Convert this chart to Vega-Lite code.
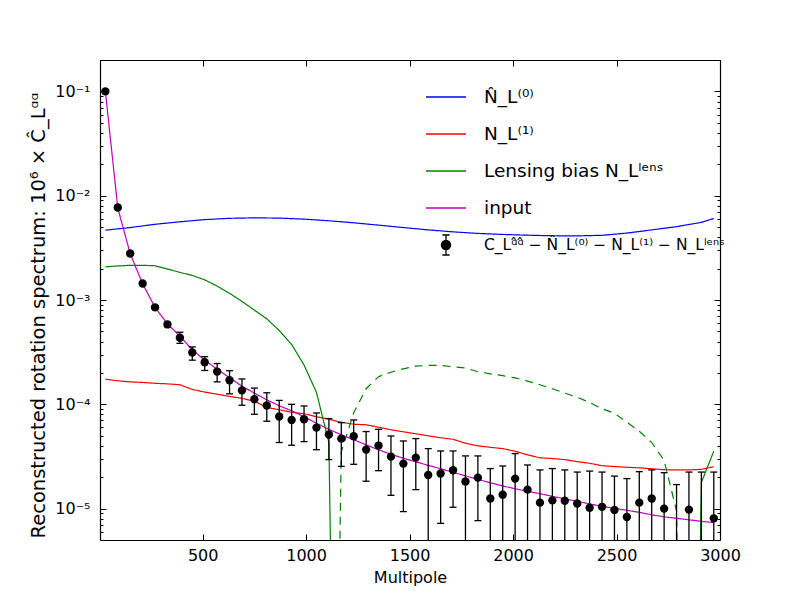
{
  "$schema": "https://vega.github.io/schema/vega-lite/v6.json",
  "width": 620,
  "height": 480,
  "autosize": {"type": "none"},
  "padding": {"left": 100, "top": 60, "right": 80, "bottom": 60},
  "background": "white",
  "config": {
    "view": {"stroke": null},
    "font": "DejaVu Sans",
    "axis": {
      "grid": false,
      "labelFont": "DejaVu Sans",
      "labelFontSize": 16,
      "labelColor": "black",
      "tickColor": "black",
      "tickWidth": 1,
      "domainColor": "black",
      "domainWidth": 1.2,
      "titleFont": "DejaVu Sans",
      "titleFontWeight": "normal",
      "titleColor": "black"
    },
    "legend": {
      "orient": "none",
      "legendX": 325,
      "legendY": 16,
      "padding": 0,
      "symbolType": "stroke",
      "symbolSize": 1600,
      "symbolStrokeWidth": 1.3,
      "labelFont": "DejaVu Sans",
      "labelFontSize": 18.5,
      "labelColor": "black",
      "labelOffset": 17,
      "labelLimit": 600,
      "rowPadding": 6
    }
  },
  "datasets": {
    "curves": [
      {"L": 30, "v": 4.67e-3, "s": "N0", "g": "N0", "d": "solid"},
      {"L": 150, "v": 4.95e-3, "s": "N0", "g": "N0", "d": "solid"},
      {"L": 270, "v": 5.32e-3, "s": "N0", "g": "N0", "d": "solid"},
      {"L": 390, "v": 5.62e-3, "s": "N0", "g": "N0", "d": "solid"},
      {"L": 510, "v": 5.9e-3, "s": "N0", "g": "N0", "d": "solid"},
      {"L": 630, "v": 6.07e-3, "s": "N0", "g": "N0", "d": "solid"},
      {"L": 750, "v": 6.13e-3, "s": "N0", "g": "N0", "d": "solid"},
      {"L": 870, "v": 6.1e-3, "s": "N0", "g": "N0", "d": "solid"},
      {"L": 990, "v": 5.96e-3, "s": "N0", "g": "N0", "d": "solid"},
      {"L": 1110, "v": 5.75e-3, "s": "N0", "g": "N0", "d": "solid"},
      {"L": 1230, "v": 5.5e-3, "s": "N0", "g": "N0", "d": "solid"},
      {"L": 1350, "v": 5.22e-3, "s": "N0", "g": "N0", "d": "solid"},
      {"L": 1470, "v": 4.95e-3, "s": "N0", "g": "N0", "d": "solid"},
      {"L": 1590, "v": 4.7e-3, "s": "N0", "g": "N0", "d": "solid"},
      {"L": 1710, "v": 4.5e-3, "s": "N0", "g": "N0", "d": "solid"},
      {"L": 1830, "v": 4.35e-3, "s": "N0", "g": "N0", "d": "solid"},
      {"L": 1950, "v": 4.25e-3, "s": "N0", "g": "N0", "d": "solid"},
      {"L": 2070, "v": 4.18e-3, "s": "N0", "g": "N0", "d": "solid"},
      {"L": 2190, "v": 4.13e-3, "s": "N0", "g": "N0", "d": "solid"},
      {"L": 2310, "v": 4.12e-3, "s": "N0", "g": "N0", "d": "solid"},
      {"L": 2430, "v": 4.17e-3, "s": "N0", "g": "N0", "d": "solid"},
      {"L": 2550, "v": 4.38e-3, "s": "N0", "g": "N0", "d": "solid"},
      {"L": 2670, "v": 4.7e-3, "s": "N0", "g": "N0", "d": "solid"},
      {"L": 2790, "v": 5.05e-3, "s": "N0", "g": "N0", "d": "solid"},
      {"L": 2910, "v": 5.55e-3, "s": "N0", "g": "N0", "d": "solid"},
      {"L": 2970, "v": 6.05e-3, "s": "N0", "g": "N0", "d": "solid"},

      {"L": 30, "v": 1.74e-4, "s": "N1", "g": "N1", "d": "solid"},
      {"L": 90, "v": 1.68e-4, "s": "N1", "g": "N1", "d": "solid"},
      {"L": 150, "v": 1.64e-4, "s": "N1", "g": "N1", "d": "solid"},
      {"L": 210, "v": 1.62e-4, "s": "N1", "g": "N1", "d": "solid"},
      {"L": 270, "v": 1.59e-4, "s": "N1", "g": "N1", "d": "solid"},
      {"L": 330, "v": 1.57e-4, "s": "N1", "g": "N1", "d": "solid"},
      {"L": 390, "v": 1.54e-4, "s": "N1", "g": "N1", "d": "solid"},
      {"L": 450, "v": 1.39e-4, "s": "N1", "g": "N1", "d": "solid"},
      {"L": 510, "v": 1.31e-4, "s": "N1", "g": "N1", "d": "solid"},
      {"L": 570, "v": 1.25e-4, "s": "N1", "g": "N1", "d": "solid"},
      {"L": 630, "v": 1.19e-4, "s": "N1", "g": "N1", "d": "solid"},
      {"L": 690, "v": 1.14e-4, "s": "N1", "g": "N1", "d": "solid"},
      {"L": 750, "v": 1.07e-4, "s": "N1", "g": "N1", "d": "solid"},
      {"L": 810, "v": 9.35e-5, "s": "N1", "g": "N1", "d": "solid"},
      {"L": 870, "v": 8.86e-5, "s": "N1", "g": "N1", "d": "solid"},
      {"L": 930, "v": 8.39e-5, "s": "N1", "g": "N1", "d": "solid"},
      {"L": 990, "v": 8.12e-5, "s": "N1", "g": "N1", "d": "solid"},
      {"L": 1050, "v": 7.6e-5, "s": "N1", "g": "N1", "d": "solid"},
      {"L": 1110, "v": 7.19e-5, "s": "N1", "g": "N1", "d": "solid"},
      {"L": 1170, "v": 6.73e-5, "s": "N1", "g": "N1", "d": "solid"},
      {"L": 1230, "v": 6.44e-5, "s": "N1", "g": "N1", "d": "solid"},
      {"L": 1290, "v": 6.37e-5, "s": "N1", "g": "N1", "d": "solid"},
      {"L": 1350, "v": 6.03e-5, "s": "N1", "g": "N1", "d": "solid"},
      {"L": 1410, "v": 5.7e-5, "s": "N1", "g": "N1", "d": "solid"},
      {"L": 1470, "v": 5.45e-5, "s": "N1", "g": "N1", "d": "solid"},
      {"L": 1530, "v": 5.22e-5, "s": "N1", "g": "N1", "d": "solid"},
      {"L": 1590, "v": 4.99e-5, "s": "N1", "g": "N1", "d": "solid"},
      {"L": 1650, "v": 4.78e-5, "s": "N1", "g": "N1", "d": "solid"},
      {"L": 1710, "v": 4.62e-5, "s": "N1", "g": "N1", "d": "solid"},
      {"L": 1770, "v": 4.23e-5, "s": "N1", "g": "N1", "d": "solid"},
      {"L": 1830, "v": 4.0e-5, "s": "N1", "g": "N1", "d": "solid"},
      {"L": 1890, "v": 3.87e-5, "s": "N1", "g": "N1", "d": "solid"},
      {"L": 1950, "v": 3.76e-5, "s": "N1", "g": "N1", "d": "solid"},
      {"L": 2010, "v": 3.55e-5, "s": "N1", "g": "N1", "d": "solid"},
      {"L": 2070, "v": 3.28e-5, "s": "N1", "g": "N1", "d": "solid"},
      {"L": 2130, "v": 3.07e-5, "s": "N1", "g": "N1", "d": "solid"},
      {"L": 2190, "v": 3.02e-5, "s": "N1", "g": "N1", "d": "solid"},
      {"L": 2250, "v": 2.95e-5, "s": "N1", "g": "N1", "d": "solid"},
      {"L": 2310, "v": 2.82e-5, "s": "N1", "g": "N1", "d": "solid"},
      {"L": 2370, "v": 2.72e-5, "s": "N1", "g": "N1", "d": "solid"},
      {"L": 2430, "v": 2.58e-5, "s": "N1", "g": "N1", "d": "solid"},
      {"L": 2490, "v": 2.53e-5, "s": "N1", "g": "N1", "d": "solid"},
      {"L": 2550, "v": 2.49e-5, "s": "N1", "g": "N1", "d": "solid"},
      {"L": 2610, "v": 2.46e-5, "s": "N1", "g": "N1", "d": "solid"},
      {"L": 2670, "v": 2.41e-5, "s": "N1", "g": "N1", "d": "solid"},
      {"L": 2730, "v": 2.36e-5, "s": "N1", "g": "N1", "d": "solid"},
      {"L": 2790, "v": 2.35e-5, "s": "N1", "g": "N1", "d": "solid"},
      {"L": 2850, "v": 2.35e-5, "s": "N1", "g": "N1", "d": "solid"},
      {"L": 2910, "v": 2.38e-5, "s": "N1", "g": "N1", "d": "solid"},
      {"L": 2970, "v": 2.52e-5, "s": "N1", "g": "N1", "d": "solid"},

      {"L": 30, "v": 2.08e-3, "s": "lens", "g": "lensA", "d": "solid"},
      {"L": 90, "v": 2.12e-3, "s": "lens", "g": "lensA", "d": "solid"},
      {"L": 150, "v": 2.15e-3, "s": "lens", "g": "lensA", "d": "solid"},
      {"L": 210, "v": 2.15e-3, "s": "lens", "g": "lensA", "d": "solid"},
      {"L": 270, "v": 2.13e-3, "s": "lens", "g": "lensA", "d": "solid"},
      {"L": 330, "v": 1.98e-3, "s": "lens", "g": "lensA", "d": "solid"},
      {"L": 390, "v": 1.84e-3, "s": "lens", "g": "lensA", "d": "solid"},
      {"L": 450, "v": 1.72e-3, "s": "lens", "g": "lensA", "d": "solid"},
      {"L": 510, "v": 1.56e-3, "s": "lens", "g": "lensA", "d": "solid"},
      {"L": 570, "v": 1.36e-3, "s": "lens", "g": "lensA", "d": "solid"},
      {"L": 630, "v": 1.16e-3, "s": "lens", "g": "lensA", "d": "solid"},
      {"L": 690, "v": 9.7e-4, "s": "lens", "g": "lensA", "d": "solid"},
      {"L": 750, "v": 8.0e-4, "s": "lens", "g": "lensA", "d": "solid"},
      {"L": 810, "v": 6.6e-4, "s": "lens", "g": "lensA", "d": "solid"},
      {"L": 870, "v": 5.1e-4, "s": "lens", "g": "lensA", "d": "solid"},
      {"L": 930, "v": 3.75e-4, "s": "lens", "g": "lensA", "d": "solid"},
      {"L": 990, "v": 2.38e-4, "s": "lens", "g": "lensA", "d": "solid"},
      {"L": 1050, "v": 1.3e-4, "s": "lens", "g": "lensA", "d": "solid"},
      {"L": 1110, "v": 4.3e-5, "s": "lens", "g": "lensA", "d": "solid"},
      {"L": 1170, "v": 1e-12, "s": "lens", "g": "lensA", "d": "solid"},

      {"L": 2850, "v": 1e-12, "s": "lens", "g": "lensB", "d": "solid"},
      {"L": 2910, "v": 1.78e-5, "s": "lens", "g": "lensB", "d": "solid"},
      {"L": 2970, "v": 3.55e-5, "s": "lens", "g": "lensB", "d": "solid"},

      {"L": 1110, "v": 1e-12, "s": "lens", "g": "lensN", "d": "dashed"},
      {"L": 1170, "v": 3.5e-5, "s": "lens", "g": "lensN", "d": "dashed"},
      {"L": 1230, "v": 8.3e-5, "s": "lens", "g": "lensN", "d": "dashed"},
      {"L": 1290, "v": 1.41e-4, "s": "lens", "g": "lensN", "d": "dashed"},
      {"L": 1350, "v": 1.84e-4, "s": "lens", "g": "lensN", "d": "dashed"},
      {"L": 1410, "v": 2.03e-4, "s": "lens", "g": "lensN", "d": "dashed"},
      {"L": 1470, "v": 2.19e-4, "s": "lens", "g": "lensN", "d": "dashed"},
      {"L": 1530, "v": 2.32e-4, "s": "lens", "g": "lensN", "d": "dashed"},
      {"L": 1590, "v": 2.36e-4, "s": "lens", "g": "lensN", "d": "dashed"},
      {"L": 1650, "v": 2.36e-4, "s": "lens", "g": "lensN", "d": "dashed"},
      {"L": 1710, "v": 2.29e-4, "s": "lens", "g": "lensN", "d": "dashed"},
      {"L": 1770, "v": 2.23e-4, "s": "lens", "g": "lensN", "d": "dashed"},
      {"L": 1830, "v": 2.05e-4, "s": "lens", "g": "lensN", "d": "dashed"},
      {"L": 1890, "v": 1.96e-4, "s": "lens", "g": "lensN", "d": "dashed"},
      {"L": 1950, "v": 1.88e-4, "s": "lens", "g": "lensN", "d": "dashed"},
      {"L": 2010, "v": 1.79e-4, "s": "lens", "g": "lensN", "d": "dashed"},
      {"L": 2070, "v": 1.67e-4, "s": "lens", "g": "lensN", "d": "dashed"},
      {"L": 2130, "v": 1.54e-4, "s": "lens", "g": "lensN", "d": "dashed"},
      {"L": 2190, "v": 1.41e-4, "s": "lens", "g": "lensN", "d": "dashed"},
      {"L": 2250, "v": 1.28e-4, "s": "lens", "g": "lensN", "d": "dashed"},
      {"L": 2310, "v": 1.17e-4, "s": "lens", "g": "lensN", "d": "dashed"},
      {"L": 2370, "v": 1.04e-4, "s": "lens", "g": "lensN", "d": "dashed"},
      {"L": 2430, "v": 9.06e-5, "s": "lens", "g": "lensN", "d": "dashed"},
      {"L": 2490, "v": 8.2e-5, "s": "lens", "g": "lensN", "d": "dashed"},
      {"L": 2550, "v": 6.73e-5, "s": "lens", "g": "lensN", "d": "dashed"},
      {"L": 2610, "v": 5.51e-5, "s": "lens", "g": "lensN", "d": "dashed"},
      {"L": 2670, "v": 4.3e-5, "s": "lens", "g": "lensN", "d": "dashed"},
      {"L": 2730, "v": 2.9e-5, "s": "lens", "g": "lensN", "d": "dashed"},
      {"L": 2790, "v": 9.5e-6, "s": "lens", "g": "lensN", "d": "dashed"},
      {"L": 2850, "v": 1e-12, "s": "lens", "g": "lensN", "d": "dashed"},

      {"L": 30, "v": 1.0e-1, "s": "input", "g": "input", "d": "solid"},
      {"L": 90, "v": 7.6e-3, "s": "input", "g": "input", "d": "solid"},
      {"L": 150, "v": 2.78e-3, "s": "input", "g": "input", "d": "solid"},
      {"L": 210, "v": 1.43e-3, "s": "input", "g": "input", "d": "solid"},
      {"L": 270, "v": 8.5e-4, "s": "input", "g": "input", "d": "solid"},
      {"L": 330, "v": 5.9e-4, "s": "input", "g": "input", "d": "solid"},
      {"L": 390, "v": 4.5e-4, "s": "input", "g": "input", "d": "solid"},
      {"L": 450, "v": 3.34e-4, "s": "input", "g": "input", "d": "solid"},
      {"L": 510, "v": 2.65e-4, "s": "input", "g": "input", "d": "solid"},
      {"L": 570, "v": 2.17e-4, "s": "input", "g": "input", "d": "solid"},
      {"L": 630, "v": 1.8e-4, "s": "input", "g": "input", "d": "solid"},
      {"L": 690, "v": 1.49e-4, "s": "input", "g": "input", "d": "solid"},
      {"L": 750, "v": 1.28e-4, "s": "input", "g": "input", "d": "solid"},
      {"L": 810, "v": 1.105e-4, "s": "input", "g": "input", "d": "solid"},
      {"L": 870, "v": 9.68e-5, "s": "input", "g": "input", "d": "solid"},
      {"L": 930, "v": 8.67e-5, "s": "input", "g": "input", "d": "solid"},
      {"L": 990, "v": 7.6e-5, "s": "input", "g": "input", "d": "solid"},
      {"L": 1050, "v": 6.58e-5, "s": "input", "g": "input", "d": "solid"},
      {"L": 1110, "v": 5.76e-5, "s": "input", "g": "input", "d": "solid"},
      {"L": 1170, "v": 5.1e-5, "s": "input", "g": "input", "d": "solid"},
      {"L": 1230, "v": 4.57e-5, "s": "input", "g": "input", "d": "solid"},
      {"L": 1290, "v": 4.09e-5, "s": "input", "g": "input", "d": "solid"},
      {"L": 1350, "v": 3.66e-5, "s": "input", "g": "input", "d": "solid"},
      {"L": 1410, "v": 3.32e-5, "s": "input", "g": "input", "d": "solid"},
      {"L": 1470, "v": 3.04e-5, "s": "input", "g": "input", "d": "solid"},
      {"L": 1530, "v": 2.81e-5, "s": "input", "g": "input", "d": "solid"},
      {"L": 1590, "v": 2.6e-5, "s": "input", "g": "input", "d": "solid"},
      {"L": 1650, "v": 2.41e-5, "s": "input", "g": "input", "d": "solid"},
      {"L": 1710, "v": 2.23e-5, "s": "input", "g": "input", "d": "solid"},
      {"L": 1770, "v": 2.06e-5, "s": "input", "g": "input", "d": "solid"},
      {"L": 1830, "v": 1.91e-5, "s": "input", "g": "input", "d": "solid"},
      {"L": 1890, "v": 1.77e-5, "s": "input", "g": "input", "d": "solid"},
      {"L": 1950, "v": 1.65e-5, "s": "input", "g": "input", "d": "solid"},
      {"L": 2010, "v": 1.55e-5, "s": "input", "g": "input", "d": "solid"},
      {"L": 2070, "v": 1.465e-5, "s": "input", "g": "input", "d": "solid"},
      {"L": 2130, "v": 1.39e-5, "s": "input", "g": "input", "d": "solid"},
      {"L": 2190, "v": 1.31e-5, "s": "input", "g": "input", "d": "solid"},
      {"L": 2250, "v": 1.24e-5, "s": "input", "g": "input", "d": "solid"},
      {"L": 2310, "v": 1.175e-5, "s": "input", "g": "input", "d": "solid"},
      {"L": 2370, "v": 1.11e-5, "s": "input", "g": "input", "d": "solid"},
      {"L": 2430, "v": 1.05e-5, "s": "input", "g": "input", "d": "solid"},
      {"L": 2490, "v": 1.007e-5, "s": "input", "g": "input", "d": "solid"},
      {"L": 2550, "v": 9.63e-6, "s": "input", "g": "input", "d": "solid"},
      {"L": 2610, "v": 9.21e-6, "s": "input", "g": "input", "d": "solid"},
      {"L": 2670, "v": 8.72e-6, "s": "input", "g": "input", "d": "solid"},
      {"L": 2730, "v": 8.34e-6, "s": "input", "g": "input", "d": "solid"},
      {"L": 2790, "v": 8.07e-6, "s": "input", "g": "input", "d": "solid"},
      {"L": 2850, "v": 7.81e-6, "s": "input", "g": "input", "d": "solid"},
      {"L": 2910, "v": 7.55e-6, "s": "input", "g": "input", "d": "solid"},
      {"L": 2970, "v": 7.34e-6, "s": "input", "g": "input", "d": "solid"}
    ],
    "spectrum": [
      {"L": 30, "v": 1.0e-1, "lo": 9.7e-2, "hi": 1.03e-1, "s": "data"},
      {"L": 90, "v": 7.7e-3, "lo": 7.5e-3, "hi": 7.9e-3, "s": "data"},
      {"L": 150, "v": 2.79e-3, "lo": 2.72e-3, "hi": 2.86e-3, "s": "data"},
      {"L": 210, "v": 1.44e-3, "lo": 1.4e-3, "hi": 1.48e-3, "s": "data"},
      {"L": 270, "v": 8.49e-4, "lo": 8.2e-4, "hi": 8.8e-4, "s": "data"},
      {"L": 330, "v": 5.83e-4, "lo": 5.55e-4, "hi": 6.1e-4, "s": "data"},
      {"L": 390, "v": 4.35e-4, "lo": 3.84e-4, "hi": 4.91e-4, "s": "data"},
      {"L": 450, "v": 3.14e-4, "lo": 2.65e-4, "hi": 3.55e-4, "s": "data"},
      {"L": 510, "v": 2.53e-4, "lo": 2.11e-4, "hi": 2.86e-4, "s": "data"},
      {"L": 570, "v": 2.06e-4, "lo": 1.64e-4, "hi": 2.46e-4, "s": "data"},
      {"L": 630, "v": 1.7e-4, "lo": 1.26e-4, "hi": 2.1e-4, "s": "data"},
      {"L": 690, "v": 1.36e-4, "lo": 9.79e-5, "hi": 1.75e-4, "s": "data"},
      {"L": 750, "v": 1.12e-4, "lo": 8.03e-5, "hi": 1.43e-4, "s": "data"},
      {"L": 810, "v": 9.73e-5, "lo": 6.88e-5, "hi": 1.29e-4, "s": "data"},
      {"L": 870, "v": 7.63e-5, "lo": 4.3e-5, "hi": 1.09e-4, "s": "data"},
      {"L": 930, "v": 7.08e-5, "lo": 4.05e-5, "hi": 1.0e-4, "s": "data"},
      {"L": 990, "v": 7.19e-5, "lo": 4.39e-5, "hi": 9.64e-5, "s": "data"},
      {"L": 1050, "v": 5.98e-5, "lo": 3.67e-5, "hi": 8.26e-5, "s": "data"},
      {"L": 1110, "v": 5.13e-5, "lo": 2.95e-5, "hi": 7.3e-5, "s": "data"},
      {"L": 1170, "v": 4.69e-5, "lo": 2.54e-5, "hi": 6.68e-5, "s": "data"},
      {"L": 1230, "v": 4.94e-5, "lo": 2.66e-5, "hi": 7.08e-5, "s": "data"},
      {"L": 1290, "v": 3.68e-5, "lo": 1.83e-5, "hi": 5.48e-5, "s": "data"},
      {"L": 1350, "v": 4.02e-5, "lo": 2.31e-5, "hi": 5.76e-5, "s": "data"},
      {"L": 1410, "v": 3.15e-5, "lo": 1.34e-5, "hi": 4.97e-5, "s": "data"},
      {"L": 1470, "v": 2.7e-5, "lo": 9.36e-6, "hi": 4.45e-5, "s": "data"},
      {"L": 1530, "v": 3.08e-5, "lo": 1.52e-5, "hi": 4.69e-5, "s": "data"},
      {"L": 1590, "v": 2.1e-5, "lo": 1e-6, "hi": 3.76e-5, "s": "data"},
      {"L": 1650, "v": 2.17e-5, "lo": 7.22e-6, "hi": 3.57e-5, "s": "data"},
      {"L": 1710, "v": 2.33e-5, "lo": 1.03e-5, "hi": 3.57e-5, "s": "data"},
      {"L": 1770, "v": 1.82e-5, "lo": 1e-6, "hi": 3.2e-5, "s": "data"},
      {"L": 1830, "v": 1.98e-5, "lo": 7.67e-6, "hi": 3.2e-5, "s": "data"},
      {"L": 1890, "v": 1.25e-5, "lo": 1e-6, "hi": 2.42e-5, "s": "data"},
      {"L": 1950, "v": 1.36e-5, "lo": 1e-6, "hi": 2.56e-5, "s": "data"},
      {"L": 2010, "v": 1.94e-5, "lo": 1e-6, "hi": 3.37e-5, "s": "data"},
      {"L": 2070, "v": 1.52e-5, "lo": 1e-6, "hi": 2.62e-5, "s": "data"},
      {"L": 2130, "v": 1.14e-5, "lo": 1e-6, "hi": 2.35e-5, "s": "data"},
      {"L": 2190, "v": 1.2e-5, "lo": 1e-6, "hi": 2.42e-5, "s": "data"},
      {"L": 2250, "v": 1.19e-5, "lo": 1e-6, "hi": 2.35e-5, "s": "data"},
      {"L": 2310, "v": 1.12e-5, "lo": 1e-6, "hi": 2.24e-5, "s": "data"},
      {"L": 2370, "v": 1.02e-5, "lo": 1e-6, "hi": 2.29e-5, "s": "data"},
      {"L": 2430, "v": 1.04e-5, "lo": 1e-6, "hi": 2.24e-5, "s": "data"},
      {"L": 2490, "v": 9.7e-6, "lo": 1e-6, "hi": 2.05e-5, "s": "data"},
      {"L": 2550, "v": 8.31e-6, "lo": 1e-6, "hi": 1.94e-5, "s": "data"},
      {"L": 2610, "v": 1.14e-5, "lo": 1e-6, "hi": 2.26e-5, "s": "data"},
      {"L": 2670, "v": 1.25e-5, "lo": 1e-6, "hi": 2.35e-5, "s": "data"},
      {"L": 2730, "v": 1.0e-5, "lo": 1e-6, "hi": 2.21e-5, "s": "data"},
      {"L": 2790, "v": null, "lo": 1e-6, "hi": 1.7e-5, "s": "data"},
      {"L": 2850, "v": 9.78e-6, "lo": 1e-6, "hi": 2.24e-5, "s": "data"},
      {"L": 2910, "v": null, "lo": 1e-6, "hi": 2.24e-5, "s": "data"},
      {"L": 2970, "v": 8.07e-6, "lo": 1e-6, "hi": 2.24e-5, "s": "data"}
    ]
  },
  "layer": [
    {
      "data": {"name": "curves"},
      "mark": {"type": "line", "clip": true, "strokeWidth": 1.2},
      "encoding": {
        "x": {
          "field": "L",
          "type": "quantitative",
          "scale": {"domain": [4, 3000], "nice": false, "zero": false},
          "axis": {
            "orient": "bottom",
            "values": [500, 1000, 1500, 2000, 2500, 3000],
            "format": "d",
            "tickSize": -6,
            "labelPadding": 13,
            "labelFlush": false,
            "title": "Multipole",
            "titleFontSize": 16,
            "titleX": 310,
            "titleY": 42,
            "titleAlign": "center",
            "titleBaseline": "alphabetic"
          }
        },
        "y": {
          "field": "v",
          "type": "quantitative",
          "scale": {"type": "log", "domain": [5e-6, 0.2], "nice": false},
          "axis": {
            "orient": "left",
            "values": [1e-5, 1e-4, 1e-3, 1e-2, 1e-1],
            "labelExpr": "datum.value > 0.05 ? '10⁻¹' : datum.value > 0.005 ? '10⁻²' : datum.value > 0.0005 ? '10⁻³' : datum.value > 0.00005 ? '10⁻⁴' : '10⁻⁵'",
            "tickSize": -6,
            "labelPadding": 16,
            "labelBaseline": "middle",
            "title": "Reconstructed rotation spectrum: 10⁶ × Ĉ_Lᵅᵅ",
            "titleFontSize": 19.5,
            "titleX": -62,
            "titleY": 478,
            "titleAngle": -90,
            "titleAlign": "left",
            "titleBaseline": "middle"
          }
        },
        "color": {
          "field": "s",
          "type": "nominal",
          "scale": {
            "domain": ["N0", "N1", "lens", "input", "data"],
            "range": ["#0000ff", "#ff0000", "#008000", "#bf00bf", "#000000"]
          },
          "legend": {
            "title": null,
            "labelExpr": "datum.value === 'N0' ? 'N̂_L⁽⁰⁾' : datum.value === 'N1' ? 'N_L⁽¹⁾' : datum.value === 'lens' ? 'Lensing bias N_Lˡᵉⁿˢ' : datum.value === 'input' ? 'input' : 'C_Lᵅ̂ᵅ̂ − N̂_L⁽⁰⁾ − N_L⁽¹⁾ − N_Lˡᵉⁿˢ'",
            "encode": {
              "symbols": {
                "update": {
                  "shape": {"signal": "datum.value === 'data' ? 'M0,-0.5L0,0.5M-0.18,-0.5L0.18,-0.5M-0.18,0.5L0.18,0.5M-0.23,0A0.23,0.23 0 1,1 0.23,0A0.23,0.23 0 1,1 -0.23,0Z' : 'stroke'"},
                  "fill": {"signal": "datum.value === 'data' ? 'black' : 'transparent'"}
                }
              },
              "labels": {
                "update": {
                  "fontSize": {"signal": "datum.value === 'data' ? 15.5 : 18.5"}
                }
              }
            }
          }
        },
        "detail": {"field": "g"},
        "strokeDash": {
          "field": "d",
          "type": "nominal",
          "scale": {"domain": ["solid", "dashed"], "range": [[1, 0], [8, 6]]},
          "legend": null
        }
      }
    },
    {
      "data": {"name": "spectrum"},
      "mark": {"type": "rule", "clip": true, "color": "black", "strokeWidth": 1.3},
      "encoding": {
        "x": {
          "field": "L",
          "type": "quantitative",
          "scale": {"domain": [4, 3000], "nice": false, "zero": false},
          "axis": {"orient": "top", "values": [500, 1000, 1500, 2000, 2500, 3000], "labels": false, "tickSize": -6, "title": null}
        },
        "y": {
          "field": "lo",
          "type": "quantitative",
          "scale": {"type": "log", "domain": [5e-6, 0.2], "nice": false},
          "axis": {"orient": "right", "values": [1e-5, 1e-4, 1e-3, 1e-2, 1e-1], "labels": false, "tickSize": -6, "title": null}
        },
        "y2": {"field": "hi"}
      }
    },
    {
      "data": {"name": "spectrum"},
      "mark": {"type": "tick", "orient": "horizontal", "size": 7, "thickness": 1.3, "color": "black", "clip": true, "opacity": 1},
      "encoding": {
        "x": {"field": "L", "type": "quantitative", "scale": {"domain": [4, 3000], "nice": false, "zero": false}, "axis": null},
        "y": {
          "field": "lo",
          "type": "quantitative",
          "scale": {"type": "log", "domain": [5e-6, 0.2], "nice": false},
          "axis": {
            "orient": "left",
            "values": [6e-6, 7e-6, 8e-6, 9e-6, 2e-5, 3e-5, 4e-5, 5e-5, 6e-5, 7e-5, 8e-5, 9e-5, 2e-4, 3e-4, 4e-4, 5e-4, 6e-4, 7e-4, 8e-4, 9e-4, 2e-3, 3e-3, 4e-3, 5e-3, 6e-3, 7e-3, 8e-3, 9e-3, 2e-2, 3e-2, 4e-2, 5e-2, 6e-2, 7e-2, 8e-2, 9e-2, 2e-1],
            "labels": false,
            "domain": false,
            "tickSize": -3,
            "title": null
          }
        }
      }
    },
    {
      "data": {"name": "spectrum"},
      "mark": {"type": "tick", "orient": "horizontal", "size": 7, "thickness": 1.3, "color": "black", "clip": true, "opacity": 1},
      "encoding": {
        "x": {"field": "L", "type": "quantitative", "scale": {"domain": [4, 3000], "nice": false, "zero": false}, "axis": null},
        "y": {
          "field": "hi",
          "type": "quantitative",
          "scale": {"type": "log", "domain": [5e-6, 0.2], "nice": false},
          "axis": {
            "orient": "right",
            "values": [6e-6, 7e-6, 8e-6, 9e-6, 2e-5, 3e-5, 4e-5, 5e-5, 6e-5, 7e-5, 8e-5, 9e-5, 2e-4, 3e-4, 4e-4, 5e-4, 6e-4, 7e-4, 8e-4, 9e-4, 2e-3, 3e-3, 4e-3, 5e-3, 6e-3, 7e-3, 8e-3, 9e-3, 2e-2, 3e-2, 4e-2, 5e-2, 6e-2, 7e-2, 8e-2, 9e-2, 2e-1],
            "labels": false,
            "domain": false,
            "tickSize": -3,
            "title": null
          }
        }
      }
    },
    {
      "data": {"name": "spectrum"},
      "mark": {"type": "point", "filled": true, "size": 70, "opacity": 1, "clip": true},
      "encoding": {
        "x": {"field": "L", "type": "quantitative", "scale": {"domain": [4, 3000], "nice": false, "zero": false}, "axis": null},
        "y": {"field": "v", "type": "quantitative", "scale": {"type": "log", "domain": [5e-6, 0.2], "nice": false}, "axis": null},
        "color": {"field": "s", "type": "nominal"}
      }
    }
  ],
  "resolve": {"axis": {"x": "independent", "y": "independent"}}
}
